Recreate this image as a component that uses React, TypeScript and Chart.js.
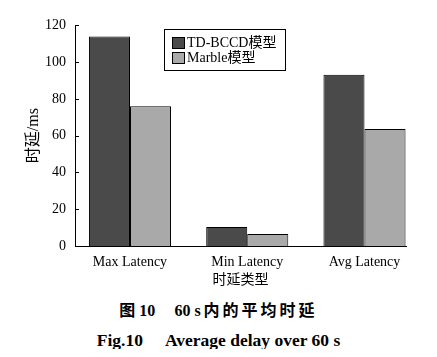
import React, { useEffect, useRef } from "react";
import { Chart, registerables } from "chart.js";

Chart.register(...registerables);

const categories = ["Max Latency", "Min Latency", "Avg Latency"];
const seriesNames = ["TD-BCCD模型", "Marble模型"];
const tdbccdValues = [114, 10.3, 93.1];
const marbleValues = [76, 6.5, 63.7];
const yTicks = [0, 20, 40, 60, 80, 100, 120];
const yTitle = "时延/ms";
const xTitle = "时延类型";
const caption1a = "图 10";
const caption1b = "60 s";
const caption1c = "内的平均时延";
const caption2a = "Fig.10";
const caption2b = "Average delay over 60 s";

const FONT = "'Liberation Serif', 'Noto Sans CJK SC', serif";
const COLORS = ["#4a4a4a", "#a9a9a9"];

const innerTicks = {
  id: "innerTicks",
  afterDraw(chart: any) {
    const { ctx, chartArea } = chart;
    const y = chart.scales.y;
    ctx.save();
    ctx.strokeStyle = "#000";
    ctx.lineWidth = 1;
    yTicks.forEach((v) => {
      const py = Math.round(y.getPixelForValue(v)) + 0.5;
      ctx.beginPath();
      ctx.moveTo(chartArea.left, py);
      ctx.lineTo(chartArea.left + 4, py);
      ctx.stroke();
    });
    ctx.restore();
  },
};

const boxLegend = {
  id: "boxLegend",
  afterDraw(chart: any) {
    const { ctx } = chart;
    const bx = 156.5, by = 21.5, bw = 121, bh = 41;
    ctx.save();
    ctx.fillStyle = "#fff";
    ctx.fillRect(bx, by, bw, bh);
    ctx.strokeStyle = "#000";
    ctx.lineWidth = 1;
    ctx.strokeRect(bx, by, bw, bh);
    ctx.font = "14px " + FONT;
    ctx.textBaseline = "middle";
    chart.data.datasets.forEach((ds: any, i: number) => {
      const sy = 29.5 + i * 15;
      ctx.fillStyle = ds.backgroundColor;
      ctx.fillRect(164.5, sy, 12, 11);
      ctx.strokeRect(164.5, sy, 12, 11);
      ctx.fillStyle = "#000";
      ctx.fillText(ds.label, 179, sy + 6);
    });
    ctx.restore();
  },
};

export default function App() {
  const ref = useRef<HTMLCanvasElement>(null);
  useEffect(() => {
    if (!ref.current) return;
    const mk = (vals: number[]) => vals.map((v, i) => ({ x: i + 1, y: v }));
    const chart = new Chart(ref.current, {
      type: "bar",
      data: {
        datasets: [
          { label: seriesNames[0], data: mk(tdbccdValues), backgroundColor: COLORS[0], borderColor: "#000", borderWidth: 1, categoryPercentage: 0.7, barPercentage: 1.0 },
          { label: seriesNames[1], data: mk(marbleValues), backgroundColor: COLORS[1], borderColor: "#000", borderWidth: 1, categoryPercentage: 0.7, barPercentage: 1.0 },
        ] as any,
      },
      options: {
        animation: false,
        responsive: false,
        maintainAspectRatio: false,
        layout: { padding: { left: 0, right: 23, top: 12, bottom: 0 } },
        plugins: { legend: { display: false }, tooltip: { enabled: false }, title: { display: false } },
        scales: {
          x: {
            type: "linear",
            offset: false,
            min: 0.531,
            max: 3.354,
            grid: { display: false, drawTicks: false, offset: false },
            border: { display: true, color: "#000", width: 1 },
            ticks: {
              stepSize: 1,
              includeBounds: false,
              autoSkip: false,
              maxRotation: 0,
              padding: 8,
              color: "#000",
              font: { family: FONT, size: 14 },
              callback: (v: any) => categories[Number(v) - 1] ?? "",
            },
            title: { display: true, text: xTitle, color: "#000", font: { family: FONT, size: 14 }, padding: { top: 0, bottom: 11 } },
            afterFit: (s: any) => { s.height = 54; },
          },
          y: {
            min: 0,
            max: 120,
            grid: { display: false, drawTicks: false },
            border: { display: true, color: "#000", width: 1 },
            ticks: {
              stepSize: 20,
              padding: 9,
              color: "#000",
              font: { family: FONT, size: 14 },
            },
            title: { display: true, text: yTitle, color: "#000", font: { family: FONT, size: 16 }, padding: { top: 16, bottom: 0 } },
            afterFit: (s: any) => { s.width = 67; },
          },
        },
      } as any,
      plugins: [innerTicks, boxLegend],
    });
    return () => chart.destroy();
  }, []);

  const capStyle: React.CSSProperties = {
    position: "absolute",
    left: 0,
    width: 421,
    textAlign: "center",
    fontFamily: FONT,
    fontWeight: "bold",
    whiteSpace: "pre",
    color: "#000",
  };

  return (
    <div style={{ position: "relative", width: 421, height: 341 }}>
      <canvas ref={ref} width={421} height={292} style={{ display: "block", width: 421, height: 292 }} />
      <div style={{ ...capStyle, top: 293, fontSize: 16, lineHeight: "20px" }}>
        <span>{caption1a}</span>
        <span style={{ display: "inline-block", width: 19 }}> </span>
        <span>{caption1b}</span>
        <span style={{ letterSpacing: 3, marginLeft: 3 }}>{caption1c}</span>
      </div>
      <div style={{ ...capStyle, top: 322, fontSize: 17.5, lineHeight: "20px" }}>
        <span>{caption2a}</span>
        <span style={{ display: "inline-block", width: 22 }}> </span>
        <span>{caption2b}</span>
      </div>
    </div>
  );
}
